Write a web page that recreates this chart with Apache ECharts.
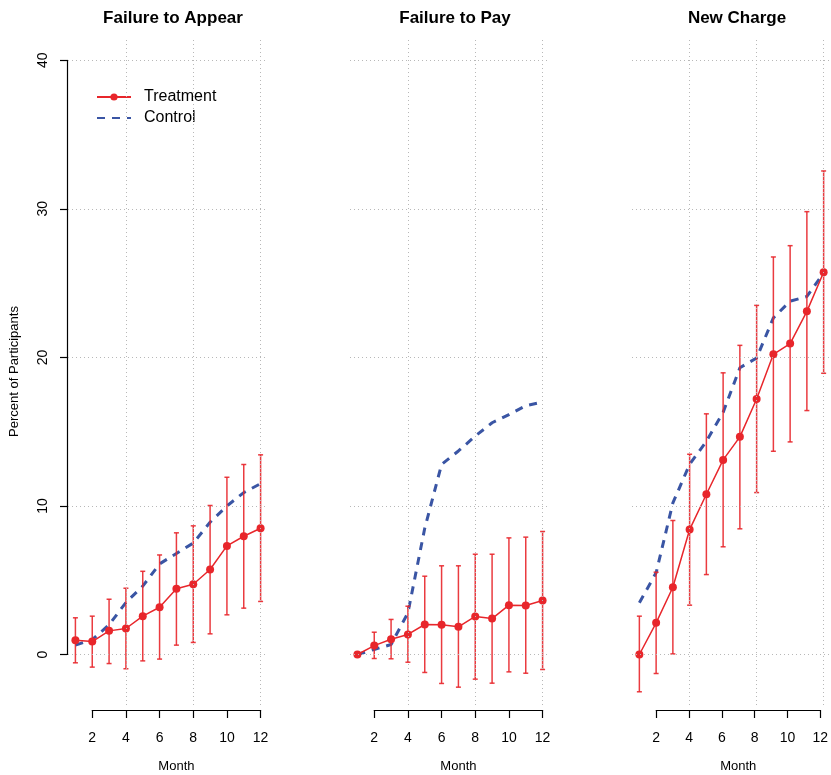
<!DOCTYPE html>
<html>
<head>
<meta charset="utf-8">
<script src="https://cdn.jsdelivr.net/npm/echarts@6/dist/echarts.min.js"></script>
<style>
  html, body { margin: 0; padding: 0; background: #fff; }
  #chart { width: 831px; height: 775px; }
</style>
</head>
<body>
<div id="chart"></div>
<script>
const RED = '#e8262b';
const BLUE = '#3a55a4';
const FONT = 'Liberation Sans, Arial, sans-serif';

// data
const months = [1, 2, 3, 4, 5, 6, 7, 8, 9, 10, 11, 12];
const panelTitles = ['Failure to Appear', 'Failure to Pay', 'New Charge'];

const appearTreat = [0.96, 0.87, 1.59, 1.75, 2.58, 3.18, 4.42, 4.73, 5.72, 7.31, 7.96, 8.5];
const appearLow = [-0.56, -0.85, -0.61, -0.96, -0.43, -0.31, 0.63, 0.81, 1.39, 2.67, 3.12, 3.57];
const appearHigh = [2.47, 2.58, 3.72, 4.46, 5.6, 6.7, 8.19, 8.66, 10.03, 11.93, 12.79, 13.44];
const appearControl = [0.63, 1.0, 2.0, 3.5, 4.6, 6.1, 6.8, 7.5, 8.9, 10.0, 10.9, 11.5];

const payTreat = [0, 0.6, 1.03, 1.35, 2.02, 2.0, 1.86, 2.56, 2.42, 3.32, 3.3, 3.63];
const payLow = [0, -0.27, -0.29, -0.52, -1.21, -1.95, -2.2, -1.66, -1.93, -1.17, -1.26, -1.01];
const payHigh = [0, 1.5, 2.36, 3.25, 5.27, 5.97, 5.97, 6.75, 6.75, 7.85, 7.9, 8.28];
const payControl = [0, 0.34, 0.67, 2.8, 8.5, 12.8, 13.7, 14.7, 15.6, 16.15, 16.75, 17.0];

const chargeTreat = [0, 2.13, 4.53, 8.41, 10.79, 13.1, 14.65, 17.2, 20.21, 20.93, 23.1, 25.73];
const chargeLow = [-2.51, -1.28, 0.04, 3.32, 5.38, 7.25, 8.46, 10.9, 13.68, 14.31, 16.42, 18.93];
const chargeHigh = [2.58, 5.54, 9.02, 13.48, 16.2, 18.96, 20.81, 23.5, 26.76, 27.52, 29.81, 32.55];
const chargeControl = [3.48, 5.5, 10.2, 12.8, 14.35, 16.3, 19.3, 19.96, 22.66, 23.78, 24.1, 25.68];

// grid lines and axis ticks
const gridLinesY = [0, 10, 20, 30, 40];
const gridLinesX = [4, 8, 12];

// plot region layout (R style)
const X_MIN = 0.56, X_MAX = 12.44;
const Y_MIN = -3.4, Y_MAX = 41.5;
const PANEL_LEFT = [68, 350, 632];
const PANEL_W = 200;
const PLOT_TOP = 38, PLOT_H = 667;
const AXIS_Y = 710;

const panels = [
  [appearTreat, appearLow, appearHigh, appearControl],
  [payTreat, payLow, payHigh, payControl],
  [chargeTreat, chargeLow, chargeHigh, chargeControl]
];

function pxX(p, m) {
  return PANEL_LEFT[p] + (m - X_MIN) / (X_MAX - X_MIN) * PANEL_W;
}
function pxY(v) {
  return PLOT_TOP + (Y_MAX - v) / (Y_MAX - Y_MIN) * PLOT_H;
}

function errorBars(params, api) {
  var x = api.value(0);
  var top = api.coord([x, api.value(2)]);
  var bot = api.coord([x, api.value(1)]);
  var w = 2.5;
  var st = { stroke: RED, lineWidth: 1.5, opacity: 0.9 };
  return {
    type: 'group',
    children: [
      { type: 'line', shape: { x1: top[0], y1: top[1], x2: bot[0], y2: bot[1] }, style: st },
      { type: 'line', shape: { x1: top[0] - w, y1: top[1], x2: top[0] + w, y2: top[1] }, style: st },
      { type: 'line', shape: { x1: bot[0] - w, y1: bot[1], x2: bot[0] + w, y2: bot[1] }, style: st }
    ]
  };
}

var grid = [], xAxis = [], yAxis = [], series = [], title = [];

panels.forEach(function (d, p) {
  // main plot region
  var g = grid.length, xi = xAxis.length, yi = yAxis.length;
  grid.push({ left: PANEL_LEFT[p], top: PLOT_TOP, width: PANEL_W, height: PLOT_H });
  xAxis.push({ gridIndex: g, type: 'value', min: X_MIN, max: X_MAX, show: false });
  yAxis.push({
    gridIndex: g, type: 'value', min: Y_MIN, max: Y_MAX,
    show: p === 0,
    axisLine: { show: false }, axisTick: { show: false }, axisLabel: { show: false },
    splitLine: { show: false },
    name: p === 0 ? 'Percent of Participants' : '',
    nameLocation: 'middle', nameGap: 47,
    nameTextStyle: { fontFamily: FONT, fontSize: 13, color: '#000' }
  });

  title.push({
    text: panelTitles[p],
    left: PANEL_LEFT[p] + PANEL_W / 2, top: 5, textAlign: 'center',
    textStyle: { fontFamily: FONT, fontSize: 17, fontWeight: 'bold', color: '#000' }
  });

  var gl = gridLinesY.map(function (v) { return { yAxis: v }; })
    .concat(gridLinesX.map(function (v) { return { xAxis: v }; }));

  series.push({
    type: 'line', xAxisIndex: xi, yAxisIndex: yi, data: [], z: 1, silent: true,
    markLine: {
      silent: true, symbol: 'none', animation: false, label: { show: false },
      lineStyle: { color: '#b8b8b8', type: [1, 3], width: 1 },
      emphasis: { disabled: true },
      data: gl
    }
  });

  series.push({
    name: 'Control', type: 'line', xAxisIndex: xi, yAxisIndex: yi, z: 2,
    data: months.map(function (m, i) { return [m, d[3][i]]; }),
    symbol: 'none', lineStyle: { color: BLUE, width: 3, type: [8, 7] },
    itemStyle: { color: BLUE }, animation: false
  });

  series.push({
    type: 'custom', xAxisIndex: xi, yAxisIndex: yi, z: 3,
    data: months.map(function (m, i) { return [m, d[1][i], d[2][i]]; }),
    encode: { x: 0, y: [1, 2] },
    renderItem: errorBars, animation: false, silent: true
  });

  series.push({
    name: 'Treatment', type: 'line', xAxisIndex: xi, yAxisIndex: yi, z: 4,
    data: months.map(function (m, i) { return [m, d[0][i]]; }),
    symbol: 'circle', symbolSize: 8,
    lineStyle: { color: RED, width: 1.5 }, itemStyle: { color: RED },
    animation: false
  });

  // R style x axis, drawn from 2 to 12 only, below the plot
  var gi = grid.length;
  var x0 = pxX(p, 2), x1 = pxX(p, 12);
  grid.push({ left: x0, top: AXIS_Y - 1, width: x1 - x0, height: 1 });
  xAxis.push({
    gridIndex: gi, type: 'value', min: 2, max: 12, interval: 2, position: 'bottom',
    axisLine: { show: true, lineStyle: { color: '#000', width: 1.2 } },
    axisTick: { show: true, length: 8, lineStyle: { color: '#000', width: 1.2 } },
    axisLabel: { show: true, margin: 21, fontFamily: FONT, fontSize: 14, color: '#000' },
    splitLine: { show: false },
    name: 'Month', nameLocation: 'middle', nameGap: 50,
    nameTextStyle: { fontFamily: FONT, fontSize: 13, color: '#000' }
  });
  yAxis.push({ gridIndex: gi, type: 'value', min: 0, max: 1, show: false });
});

// R style y axis on the first panel, from 0 to 40
var gy = grid.length;
grid.push({ left: PANEL_LEFT[0] - 1, top: pxY(40), width: 1, height: pxY(0) - pxY(40) });
xAxis.push({ gridIndex: gy, type: 'value', min: 0, max: 1, show: false });
yAxis.push({
  gridIndex: gy, type: 'value', min: 0, max: 40, interval: 10, position: 'left',
  axisLine: { show: true, lineStyle: { color: '#000', width: 1.2 } },
  axisTick: { show: true, length: 7, lineStyle: { color: '#000', width: 1.2 } },
  axisLabel: { show: true, rotate: 90, margin: 17, fontFamily: FONT, fontSize: 14, color: '#000' },
  splitLine: { show: false }
});

var chart = echarts.init(document.getElementById('chart'));
chart.setOption({
  animation: false,
  backgroundColor: '#fff',
  title: title,
  legend: {
    data: [{ name: 'Treatment' }, { name: 'Control', itemStyle: { opacity: 0 } }],
    orient: 'vertical', left: 91, top: 84,
    itemWidth: 34, itemHeight: 9, itemGap: 5,
    textStyle: { fontFamily: FONT, fontSize: 16, color: '#000', padding: [0, 0, 0, 8] }
  },
  grid: grid,
  xAxis: xAxis,
  yAxis: yAxis,
  series: series
});
</script>
</body>
</html>
